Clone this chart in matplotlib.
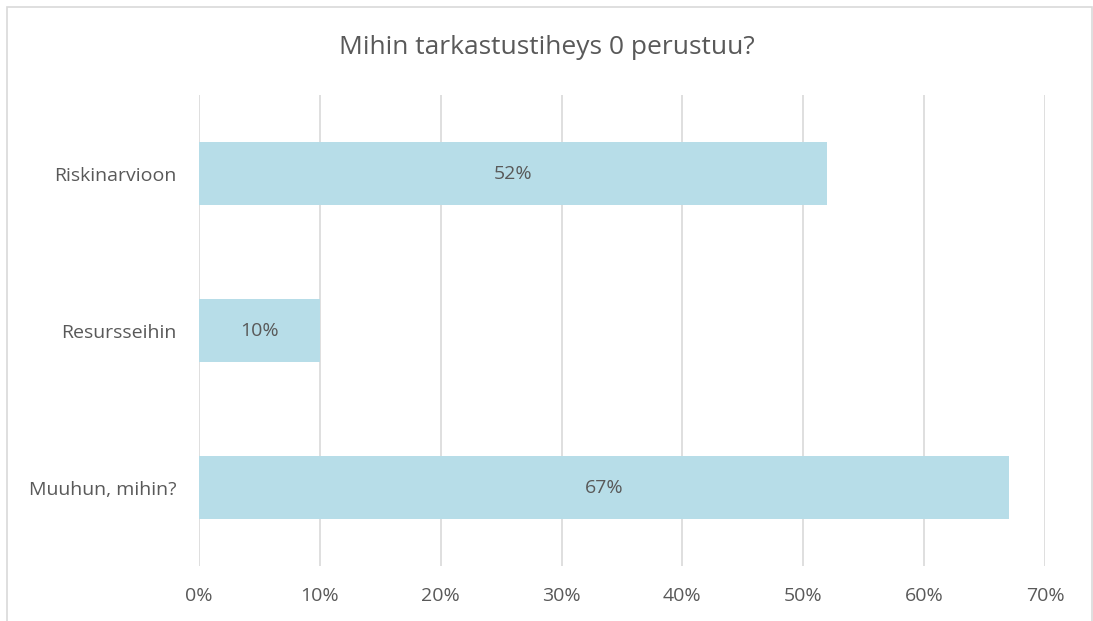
import matplotlib
matplotlib.use("Agg")
import matplotlib.pyplot as plt
from matplotlib.patches import Rectangle
from matplotlib.ticker import FuncFormatter

categories = ["Riskinarvioon", "Resursseihin", "Muuhun, mihin?"]
values = [52, 10, 67]
xticks = [0, 10, 20, 30, 40, 50, 60, 70]
title = "Mihin tarkastustiheys 0 perustuu?"

plt.rcParams['font.family'] = ['Open Sans', 'DejaVu Sans']
txt = '#595959'

fig = plt.figure(figsize=(10.93, 6.21), dpi=100)
fig.patches.append(Rectangle((7/1093, -0.01), (1092-7)/1093, (621-7)/621 + 0.01,
                             transform=fig.transFigure, fill=False,
                             edgecolor='#D9D9D9', linewidth=1.2))
ax = fig.add_axes([199/1093, 1-566/621, (1045-199)/1093, (566-95)/621])

ypos = list(range(len(categories)))
ax.barh(ypos, values, height=0.4, color='#B7DDE8', zorder=2)
for y, v in zip(ypos, values):
    ax.text(v/2, y, f"{v}%", ha='center', va='center', fontsize=14, color=txt, zorder=3)

ax.set_xlim(0, 70)
ax.set_ylim(len(categories)-0.5, -0.5)
ax.set_yticks(ypos)
ax.set_yticklabels(categories)
ax.set_xticks(xticks)
ax.xaxis.set_major_formatter(FuncFormatter(lambda x, p: f"{int(x)}%"))
ax.grid(axis='x', color='#D9D9D9', linewidth=1.2, zorder=0)
for s in ax.spines.values():
    s.set_visible(False)
ax.tick_params(axis='both', length=0, colors=txt, labelsize=14)
ax.tick_params(axis='x', pad=15)
ax.tick_params(axis='y', pad=16)
fig.text(0.5, 1-47/621, title, ha='center', va='center', fontsize=19, color=txt)

fig.savefig("out.png", dpi=100)
